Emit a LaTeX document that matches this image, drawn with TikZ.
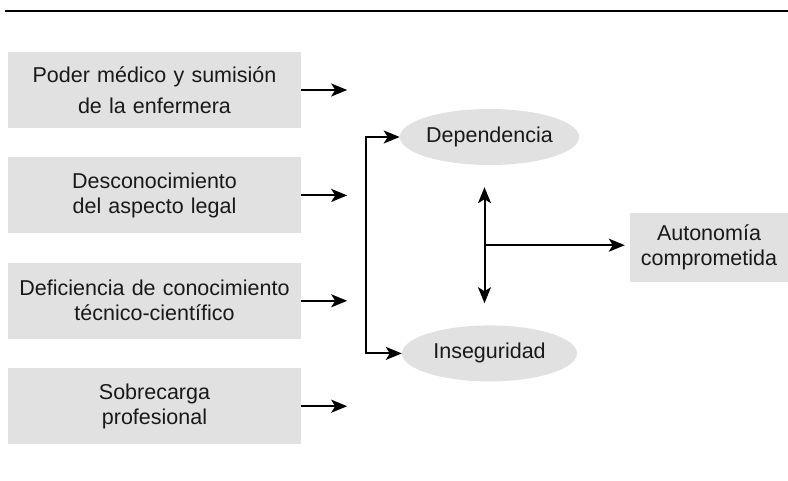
\documentclass[tikz,border=0pt]{standalone}
\usepackage{fontspec}
\setmainfont{Liberation Sans}
\usepackage{tikz}
\usetikzlibrary{positioning}
\usetikzlibrary{arrows.meta}
\usetikzlibrary{shapes.geometric}
\definecolor{boxgray}{HTML}{E1E1E1}
\tikzset{
  block/.style = {rectangle, fill=boxgray, text=black!90,
    text width=285pt, align=center, minimum width=293pt, minimum height=76pt, inner sep=0pt},
  cloud/.style = {ellipse, fill=boxgray, text=black!90,
    minimum width=175pt, minimum height=56pt, inner sep=0pt},
  tip/.tip = {Stealth[length=16pt,width=13pt,inset=4pt]},
  line/.style = {draw, line width=2pt, arrows={-tip}},
  twoway/.style = {draw, line width=2pt, arrows={tip-tip}}
}

\begin{document}
\begin{tikzpicture}[node distance = 29pt, auto, font=\fontsize{21.5}{25}\selectfont]
  \useasboundingbox (0,0) rectangle (788pt,-480pt);
  \draw [line width=2pt] (5pt,-11pt) -- (788pt,-11pt);

  \node [block] (power) at (154.5pt,-90pt) {Poder médico y sumisión\\[6pt] de la enfermera};
  \node [block, below=of power] (legal) {Desconocimiento\\ del aspecto legal};
  \node [block, below=of legal] (tech) {Deficiencia de conocimiento\\ técnico-científico};
  \node [block, below=of tech] (load) {Sobrecarga\\ profesional};
  \node [cloud] (dep) at (489.5pt,-137pt) {Dependencia};
  \node [cloud, below=160pt of dep] (insec) {Inseguridad};
  \node [block, text width=150pt, minimum width=158pt, minimum height=69pt] (auton)
    at (709pt,-247.5pt) {Autonomía\\ comprometida};

  \foreach \b in {power,legal,tech,load}
    \path [line] (\b.east) -- ++(46pt,0);

    \path [twoway] (dep.west) -- ++(-34pt,0) |- (insec.west);
    \path [twoway] ([xshift=-5pt,yshift=-22pt]dep.south)
      -- coordinate [pos=0.5] (mid) ([xshift=-5pt,yshift=22pt]insec.north);
    \path [line, shorten >=5pt] (mid) -- (mid -| auton.west);

\end{tikzpicture}
\end{document}
